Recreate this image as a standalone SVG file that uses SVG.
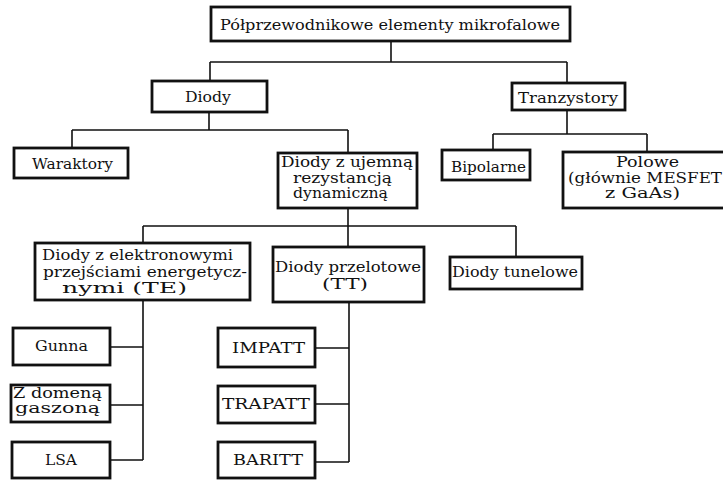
<svg xmlns="http://www.w3.org/2000/svg" width="723" height="480" viewBox="0 0 723 480">
<style>
.box{fill:#fff;stroke:#111;stroke-width:2.8}
.ln{fill:none;stroke:#111;stroke-width:1.6}
text{font-family:"DejaVu Serif","Liberation Serif",serif;font-size:14px;fill:#111}
</style>
<rect width="723" height="480" fill="#fff"/>
<g id="connectors">
<path class="ln" d="M391 41V62M210 62H567M210 62V81M567 62V83"/>
<path class="ln" d="M209 112V130M72 130H348M72 130V148M348 130V153"/>
<path class="ln" d="M567 110V134M493 134H647M493 134V150M647 134V152"/>
<path class="ln" d="M348 208V226M143 226H516M143 226V243M348 226V247M516 226V257"/>
<path class="ln" d="M143 300V460M110 347H143M110 405H143M110 460H143"/>
<path class="ln" d="M349 302V462M315 348H349M315 404H349M315 462H349"/>
</g>
<g id="n-root"><rect class="box" x="211" y="7" width="359" height="34"/><text x="220" y="30" textLength="340" lengthAdjust="spacingAndGlyphs">Półprzewodnikowe elementy mikrofalowe</text></g>
<g id="n-diody"><rect class="box" x="152" y="81" width="115" height="31"/><text x="185" y="102" textLength="46" lengthAdjust="spacingAndGlyphs">Diody</text></g>
<g id="n-tranzystory"><rect class="box" x="512" y="83" width="113" height="27"/><text x="518" y="103" textLength="100" lengthAdjust="spacingAndGlyphs">Tranzystory</text></g>
<g id="n-waraktory"><rect class="box" x="14" y="148" width="114" height="30"/><text x="32" y="169" textLength="81" lengthAdjust="spacingAndGlyphs">Waraktory</text></g>
<g id="n-ujemna"><rect class="box" x="278" y="153" width="139" height="55"/><text x="281" y="167" textLength="132" lengthAdjust="spacingAndGlyphs">Diody z ujemną</text><text x="293" y="183" textLength="99" lengthAdjust="spacingAndGlyphs">rezystancją</text><text x="293" y="198" textLength="95" lengthAdjust="spacingAndGlyphs">dynamiczną</text></g>
<g id="n-bipolarne"><rect class="box" x="442" y="150" width="88" height="30"/><text x="451" y="172" textLength="75" lengthAdjust="spacingAndGlyphs">Bipolarne</text></g>
<g id="n-polowe"><rect class="box" x="563" y="152" width="162" height="56"/><text x="616" y="167" textLength="63" lengthAdjust="spacingAndGlyphs">Polowe</text><text x="568" y="183" textLength="154" lengthAdjust="spacingAndGlyphs">(głównie MESFET</text><text x="605" y="198" textLength="75" lengthAdjust="spacingAndGlyphs">z GaAs)</text></g>
<g id="n-te"><rect class="box" x="35" y="243" width="215" height="57"/><text x="42" y="260" textLength="191" lengthAdjust="spacingAndGlyphs">Diody z elektronowymi</text><text x="43" y="277" textLength="204" lengthAdjust="spacingAndGlyphs">przejściami energetycz-</text><text x="62" y="293" textLength="125" lengthAdjust="spacingAndGlyphs">nymi (TE)</text></g>
<g id="n-tt"><rect class="box" x="273" y="247" width="151" height="55"/><text x="275" y="272" textLength="146" lengthAdjust="spacingAndGlyphs">Diody przelotowe</text><text x="322" y="289" textLength="46" lengthAdjust="spacingAndGlyphs">(TT)</text></g>
<g id="n-tunelowe"><rect class="box" x="450" y="257" width="132" height="32"/><text x="452" y="277" textLength="126" lengthAdjust="spacingAndGlyphs">Diody tunelowe</text></g>
<g id="n-gunna"><rect class="box" x="13" y="328" width="97" height="37"/><text x="35" y="351" textLength="53" lengthAdjust="spacingAndGlyphs">Gunna</text></g>
<g id="n-domena"><rect class="box" x="11" y="385" width="99" height="37"/><text x="13" y="398" textLength="89" lengthAdjust="spacingAndGlyphs">Z domeną</text><text x="15" y="413" textLength="85" lengthAdjust="spacingAndGlyphs">gaszoną</text></g>
<g id="n-lsa"><rect class="box" x="12" y="442" width="98" height="36"/><text x="45" y="465" textLength="32" lengthAdjust="spacingAndGlyphs">LSA</text></g>
<g id="n-impatt"><rect class="box" x="218" y="328" width="97" height="39"/><text x="232" y="353" textLength="73" lengthAdjust="spacingAndGlyphs">IMPATT</text></g>
<g id="n-trapatt"><rect class="box" x="218" y="386" width="97" height="37"/><text x="222" y="409" textLength="88" lengthAdjust="spacingAndGlyphs">TRAPATT</text></g>
<g id="n-baritt"><rect class="box" x="218" y="442" width="97" height="36"/><text x="233" y="465" textLength="70" lengthAdjust="spacingAndGlyphs">BARITT</text></g>
</svg>
